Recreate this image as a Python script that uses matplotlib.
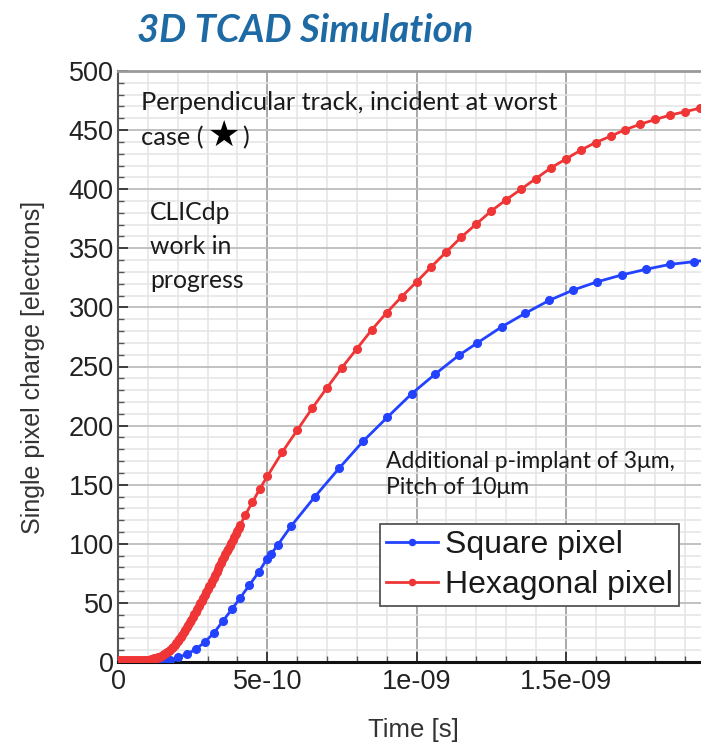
import matplotlib
matplotlib.use("Agg")
import matplotlib.pyplot as plt
from matplotlib.ticker import MultipleLocator

# Simulated collected charge vs time (time in ns, charge in electrons)
hex_time_ns = [0.00, 0.01, 0.02, 0.03, 0.04, 0.05, 0.06, 0.07, 0.08, 0.09,
               0.10, 0.11, 0.12, 0.13, 0.135, 0.14, 0.145, 0.15, 0.155, 0.16,
               0.165, 0.17, 0.175, 0.18, 0.185, 0.19, 0.195, 0.20, 0.205, 0.21,
               0.215, 0.22, 0.225, 0.23, 0.235, 0.24, 0.245, 0.25, 0.255, 0.26,
               0.265, 0.27, 0.275, 0.28, 0.285, 0.29, 0.295, 0.30, 0.305, 0.31,
               0.315, 0.32, 0.325, 0.33, 0.335, 0.34, 0.345, 0.35, 0.355, 0.36,
               0.365, 0.37, 0.375, 0.38, 0.385, 0.39, 0.395, 0.40, 0.405, 0.41,
               0.425, 0.45, 0.475, 0.50, 0.55, 0.60, 0.65, 0.70,
               0.75, 0.80, 0.85, 0.90, 0.95, 1.00, 1.05, 1.10, 1.15, 1.20,
               1.25, 1.30, 1.35, 1.40, 1.45, 1.50, 1.55, 1.60, 1.65, 1.70,
               1.75, 1.80, 1.85, 1.90, 1.95, 2.00]
hex_charge = [1.5, 1.5, 1.5, 1.5, 1.5, 1.5, 1.5, 1.6, 1.7, 1.9,
              2.1, 2.5, 3.0, 3.7, 4.1, 4.6, 5.2, 5.8, 6.5, 7.3,
              8.2, 9.2, 10.3, 11.5, 12.8, 14.3, 15.8, 17.5, 19.2, 21.0,
              23.0, 25.0, 27.1, 29.2, 31.3, 33.5, 35.7, 38.0, 40.2, 42.5,
              44.8, 47.2, 49.6, 52.0, 54.4, 56.8, 59.2, 61.6, 64.0, 66.4,
              68.8, 71.2, 73.6, 76.0, 78.5, 81.0, 83.5, 86.0, 88.5, 91.0,
              93.5, 96.0, 98.5, 101.0, 103.5, 106.0, 108.5, 111.0, 113.5, 116.0,
              124.0, 135.0, 146.5, 157.0, 177.5, 196.0, 214.5, 232.0,
              249.0, 265.0, 281.0, 295.5, 309.0, 321.5, 334.5, 347.0, 359.5, 370.5,
              381.5, 391.0, 400.0, 409.0, 418.0, 425.5, 433.0, 439.5, 444.8, 450.5,
              455.0, 459.0, 462.7, 465.6, 468.6, 471.0]

sq_time_ns = [0.00, 0.03, 0.06, 0.09, 0.12, 0.15, 0.175, 0.202, 0.23, 0.262,
              0.291, 0.321, 0.351, 0.381, 0.41, 0.44, 0.471, 0.50, 0.512, 0.535,
              0.58, 0.66, 0.741, 0.822, 0.902, 0.984, 1.062, 1.142, 1.204, 1.285,
              1.364, 1.445, 1.525, 1.606, 1.687, 1.768, 1.849, 1.93, 2.01]
sq_charge = [0.0, 0.0, 0.0, 0.0, 0.0, 0.5, 1.5, 4.0, 6.5, 11.0,
             17.0, 24.5, 34.5, 44.5, 54.5, 65.0, 76.0, 87.5, 91.0, 99.0,
             115.0, 140.0, 164.0, 187.0, 207.0, 227.0, 243.5, 259.5, 270.0, 283.5,
             295.0, 306.0, 314.7, 321.7, 327.4, 332.2, 336.4, 338.7, 341.0]

series_labels = ["Square pixel", "Hexagonal pixel"]
x_tick_labels = ["0", "5e-10", "1e-09", "1.5e-09"]

sq_time = [t * 1e-9 for t in sq_time_ns]
hex_time = [t * 1e-9 for t in hex_time_ns]

W, H = 701, 745
fig = plt.figure(figsize=(W / 100, H / 100), dpi=100)
ax = fig.add_axes([118 / W, 1 - 662 / H, 1 - 118 / W, (662 - 71) / H])

ax.set_xlim(0, 1.953e-9)
ax.set_ylim(0, 500)

# grid
ax.xaxis.set_major_locator(MultipleLocator(5e-10))
ax.xaxis.set_minor_locator(MultipleLocator(1e-10))
ax.yaxis.set_major_locator(MultipleLocator(50))
ax.yaxis.set_minor_locator(MultipleLocator(10))
ax.grid(True, which="minor", color="#e4e4e4", lw=1.1, zorder=0)
ax.grid(True, which="major", axis="x", color="#a8a8a8", lw=1.4, zorder=0)
ax.grid(True, which="major", axis="y", color="#bdbdbd", lw=1.3, zorder=0)
ax.set_axisbelow(True)

xtick_vals = [0, 5e-10, 1e-9, 1.5e-9]
ax.set_xticks(xtick_vals)
ax.set_xticklabels(x_tick_labels)

ax.tick_params(axis="both", which="major", direction="in", length=7, width=1.3,
               color="#333333", labelsize=19.5, labelcolor="#222222")
ax.tick_params(axis="both", which="minor", direction="in", length=4, width=1.0,
               color="#555555")
ax.tick_params(axis="x", which="major", pad=5)
ax.tick_params(axis="y", which="major", pad=3)
ax.tick_params(top=False, right=False, which="both")
for lab in ax.get_xticklabels() + ax.get_yticklabels():
    lab.set_fontfamily("Liberation Sans")

ax.spines["right"].set_visible(False)
ax.spines["top"].set_color("#9a9a9a")
ax.spines["top"].set_linewidth(2.0)
ax.spines["left"].set_color("#555555")
ax.spines["left"].set_linewidth(1.5)
ax.spines["bottom"].set_color("#111111")
ax.spines["bottom"].set_linewidth(2.2)

ax.plot(sq_time, sq_charge, color="#2342ff", lw=2.0, marker="o", ms=5.5,
        label=series_labels[0], zorder=3)
ax.plot(hex_time, hex_charge, color="#ef3535", lw=2.0, marker="o", ms=5.5,
        label=series_labels[1], zorder=4)

ax.set_xlabel("Time [s]", fontsize=18.5, family="Liberation Sans", color="#333333")
ax.set_ylabel("Single pixel charge [electrons]", fontsize=18,
              family="Liberation Sans", color="#333333")
ax.xaxis.set_label_coords((413 - 118) / (W - 118), (662 - 730) / (662 - 71))
ax.xaxis.label.set_va("center")
ax.yaxis.set_label_coords((33 - 118) / (W - 118), (662 - 367) / (662 - 71))
ax.yaxis.label.set_va("center")

leg = ax.legend(loc="upper left",
                bbox_to_anchor=((380 - 118) / (W - 118), 1 - (524 - 71) / (662 - 71)),
                prop={"family": "Liberation Sans", "size": 23},
                frameon=True, fancybox=False, edgecolor="#555555",
                framealpha=1.0, handlelength=1.6, handletextpad=0.22,
                borderpad=0.2, labelspacing=0.3, borderaxespad=0.0,
                markerscale=0.8)
leg.get_frame().set_linewidth(1.3)
for t in leg.get_texts():
    t.set_color("#1a1a1a")

txt_font = ["Lato", "DejaVu Sans"]
fig.text(141 / W, 1 - 103 / H, "Perpendicular track, incident at worst",
         fontsize=18.3, family=txt_font, color="#1a1a1a", va="center", ha="left")
fig.text(141 / W, 1 - 138 / H, "case (", fontsize=18.3, family=txt_font,
         color="#1a1a1a", va="center", ha="left")
fig.text(224 / W, 1 - 136 / H, "\u2605", fontsize=26, family=["DejaVu Sans"],
         color="#000000", va="center", ha="center")
fig.text(242 / W, 1 - 138 / H, ")", fontsize=18.3, family=txt_font,
         color="#1a1a1a", va="center", ha="left")

for i, line in enumerate(["CLICdp", "work in", "progress"]):
    fig.text(150 / W, 1 - (213 + 33.5 * i) / H, line, fontsize=17.8,
             family=txt_font, color="#1a1a1a", va="center", ha="left")

fig.text(386 / W, 1 - 461 / H, "Additional p-implant of 3\u03bcm,", fontsize=16.5,
         family=txt_font, color="#1a1a1a", va="center", ha="left")
fig.text(386 / W, 1 - 488 / H, "Pitch of 10\u03bcm", fontsize=16.5,
         family=txt_font, color="#1a1a1a", va="center", ha="left")

fig.text(137 / W, 1 - 30 / H, "3D TCAD Simulation", fontsize=27.5,
         family="Lato", weight="bold", style="italic", color="#1d6aa5",
         va="center", ha="left")

fig.savefig("out.png", dpi=100)
